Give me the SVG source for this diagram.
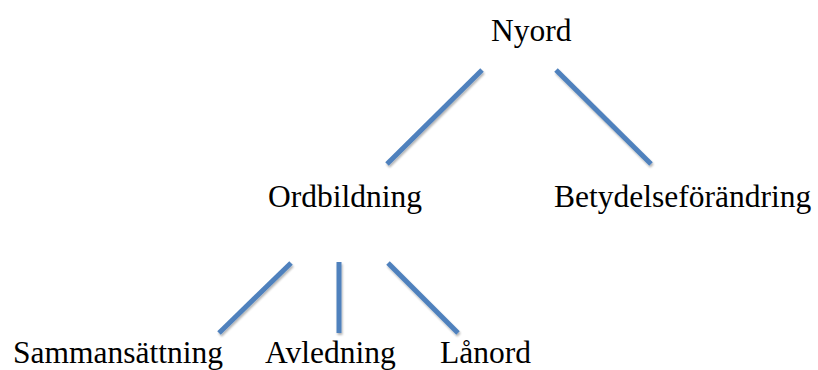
<svg xmlns="http://www.w3.org/2000/svg" width="818" height="370" viewBox="0 0 818 370">
<defs>
<filter id="sh" filterUnits="userSpaceOnUse" x="0" y="0" width="818" height="370">
<feGaussianBlur in="SourceAlpha" stdDeviation="1.2"/>
<feOffset dx="1" dy="2" result="b"/>
<feComponentTransfer><feFuncA type="linear" slope="0.3"/></feComponentTransfer>
<feMerge><feMergeNode/><feMergeNode in="SourceGraphic"/></feMerge>
</filter>
</defs>
<style>
.t{font-family:'Liberation Serif','Times New Roman',serif;font-size:31.5px;fill:#000}
.c line{stroke:#4F81BD;stroke-width:5;stroke-linecap:butt}
</style>
<rect width="818" height="370" fill="#fff"/>
<g class="c" id="connectors" filter="url(#sh)">
<line x1="482" y1="70" x2="387" y2="164"/>
<line x1="556" y1="70" x2="651" y2="164"/>
<line x1="291" y1="263" x2="219" y2="333"/>
<line x1="339" y1="262" x2="339" y2="333"/>
<line x1="388" y1="263" x2="458" y2="333"/>
</g>
<g class="t">
<g id="nyord"><text x="491" y="41">Nyord</text></g>
<g id="ordbildning"><text x="268" y="207">Ordbildning</text></g>
<g id="betydelseforandring"><text x="554" y="207">Betydelseförändring</text></g>
<g id="sammansattning"><text x="13" y="363">Sammansättning</text></g>
<g id="avledning"><text x="265" y="363">Avledning</text></g>
<g id="lanord"><text x="440" y="363">Lånord</text></g>
</g>
</svg>
